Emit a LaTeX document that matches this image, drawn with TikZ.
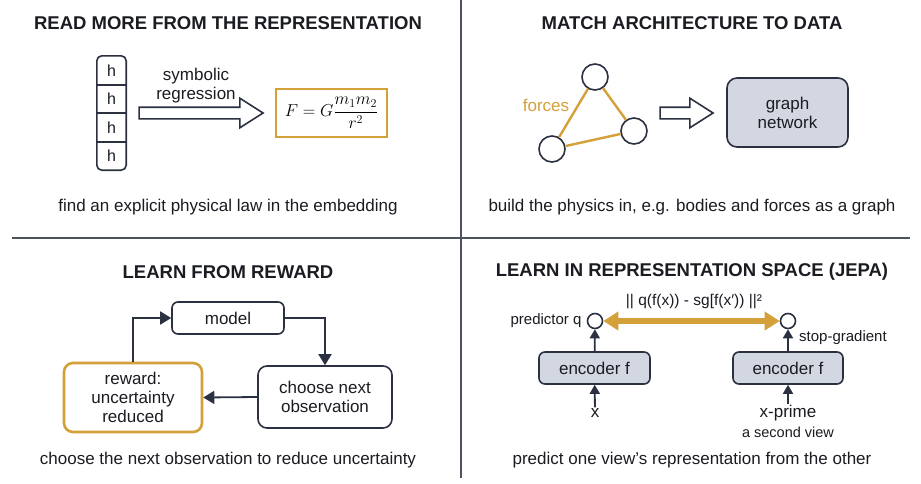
\documentclass[tikz,border=0pt]{standalone}
\usepackage{amsmath}
\usepackage{fontspec}
\setmainfont{Liberation Sans}
\usetikzlibrary{arrows.meta,positioning,shapes.arrows,fit}
\definecolor{dgnavy}{RGB}{43,49,64}
\definecolor{dggold}{RGB}{212,160,58}
\definecolor{dgfill}{RGB}{211,215,226}
\definecolor{dgrule}{RGB}{78,82,92}
\definecolor{dgink}{RGB}{26,28,34}

\begin{document}
\begin{tikzpicture}[x=1pt, y=-1pt,
    title/.style={font=\fontsize{18.5}{22}\selectfont\bfseries, text=dgink},
    caption/.style={font=\fontsize{17}{20}\selectfont, text=dgink},
    lbl/.style={font=\fontsize{17}{19}\selectfont, text=dgink, align=center, inner sep=1pt},
    small/.style={font=\fontsize{15}{18}\selectfont, text=dgink, inner sep=1pt},
    box/.style={draw=dgnavy, line width=1.6pt, rounded corners=6pt, align=center, font=\fontsize{17}{19}\selectfont, text=dgink, inner sep=0pt, fill=white},
    goldbox/.style={box, draw=dggold, line width=2.6pt, rounded corners=9pt},
    encbox/.style={box, fill=dgfill},
    body/.style={circle, draw=dgnavy, line width=1.6pt, fill=white, inner sep=0pt},
    hollow/.style={single arrow, draw=dgnavy, line width=1.6pt, fill=white, inner sep=5pt, minimum width=28pt, single arrow head extend=9pt, single arrow tip angle=65},
    flow/.style={draw=dgnavy, line width=1.8pt, -{Triangle[length=11pt,width=13pt]}},
    flowsm/.style={draw=dgnavy, line width=1.8pt, -{Triangle[length=9pt,width=10pt]}},
    force/.style={draw=dggold, line width=2.4pt},
    rule/.style={draw=dgrule, line width=1.6pt}
  ]
  \useasboundingbox[fill=white] (0,0) rectangle (921,483);
  \draw[rule] (12,238) -- (910,238);
  \draw[rule] (461,0) -- (461,478);

  \node[title] (t1) at (228,23) {READ MORE FROM THE REPRESENTATION};
  \foreach \i in {1,...,4}
    \node[minimum width=29pt, minimum height=28.5pt, inner sep=0pt, font=\fontsize{16}{18}\selectfont, text=dgink] (h\i) at (111.5,{41.75+\i*28.5}) {h};
  \node[fit=(h1)(h4), inner sep=0pt, draw=dgnavy, line width=1.6pt, rounded corners=5pt] (hstack) {};
  \foreach \i in {1,2,3}
    \draw[dgnavy, line width=1.6pt] (h\i.south west) -- (h\i.south east);
  \node[hollow, minimum height=124pt] (arrsym) at (196.5,113) {};
  \node[lbl] (symreg) at (196,85.5) {symbolic\\regression};
  \node[draw=dggold, line width=2.6pt, minimum width=111pt, minimum height=48pt, inner sep=0pt, font=\fontsize{17.5}{20}\selectfont] (law) at (331.5,113) {$F = G\dfrac{m_1m_2}{r^2}$};
  \node[caption] (c1) at (228,207) {find an explicit physical law in the embedding};

  \node[title] (t2) at (692,23) {MATCH ARCHITECTURE TO DATA};
  \node[body, minimum size=26pt] (gtop) at (595,77) {};
  \node[body, minimum size=26pt] (gright) at (634,131) {};
  \node[body, minimum size=26pt] (gleft) at (552,149) {};
  \draw[force] (gtop) -- (gleft);
  \draw[force] (gtop) -- (gright);
  \draw[force] (gleft) -- (gright);
  \node[lbl, text=dggold] (forces) at (546,105) {forces};
  \node[hollow, minimum height=53pt] (arrgn) at (682,113) {};
  \node[encbox, rounded corners=10pt, minimum width=121pt, minimum height=69pt] (gn) at (787.5,112.5) {graph\\network};
  \node[caption] (c2) at (692,207) {build the physics in, e.g. bodies and forces as a graph};

  \node[title] (t3) at (228,272) {LEARN FROM REWARD};
  \node[box, minimum width=112pt, minimum height=32pt] (model) at (228,318) {model};
  \node[box, rounded corners=9pt, minimum width=134pt, minimum height=62pt] (choose) at (325,397) {choose next\\observation};
  \node[goldbox, minimum width=138pt, minimum height=69pt] (reward) at (133,397.5) {reward:\\uncertainty\\reduced};
  \draw[flow] (reward.north) |- (model.west);
  \draw[flow] (model.east) -| (choose.north);
  \draw[flow] (choose.west) -- (reward.east);
  \node[caption] (c3) at (228,460) {choose the next observation to reduce uncertainty};

  \node[title] (t4) at (692,272) {LEARN IN REPRESENTATION SPACE (JEPA)};
  \node[small, font=\fontsize{15.5}{18}\selectfont] (loss) at (694,302) {|| q(f(x)) - sg[f(x′)) ||²};
  \node[body, minimum size=15pt] (jl) at (595,321) {};
  \node[body, minimum size=15pt] (jr) at (788,321) {};
  \draw[dggold, line width=5.5pt, {Triangle[length=15pt,width=18pt]}-{Triangle[length=15pt,width=18pt]}] (jl) -- (jr);
  \node[small, left=4pt of jl] (pq) {predictor q};
  \node[encbox, minimum width=111pt, minimum height=32pt] (encl) at (594.5,368) {encoder f};
  \node[encbox, minimum width=110pt, minimum height=32pt] (encr) at (788,368) {encoder f};
  \node[small, anchor=west] (sg) at (798,338) {stop-gradient};
  \node[lbl] (xin) at (595,413) {x};
  \node[lbl] (xp) at (788,413) {x-prime};
  \node[small, font=\fontsize{14.5}{17}\selectfont] (view) at (788,432) {a second view};
  \draw[flowsm] (encl) -- (jl);
  \draw[flowsm] (encr) -- (jr);
  \draw[flowsm] (xin) -- (encl);
  \draw[flowsm] (xp) -- (encr);
  \node[caption] (c4) at (692,460) {predict one view’s representation from the other};
\end{tikzpicture}
\end{document}
